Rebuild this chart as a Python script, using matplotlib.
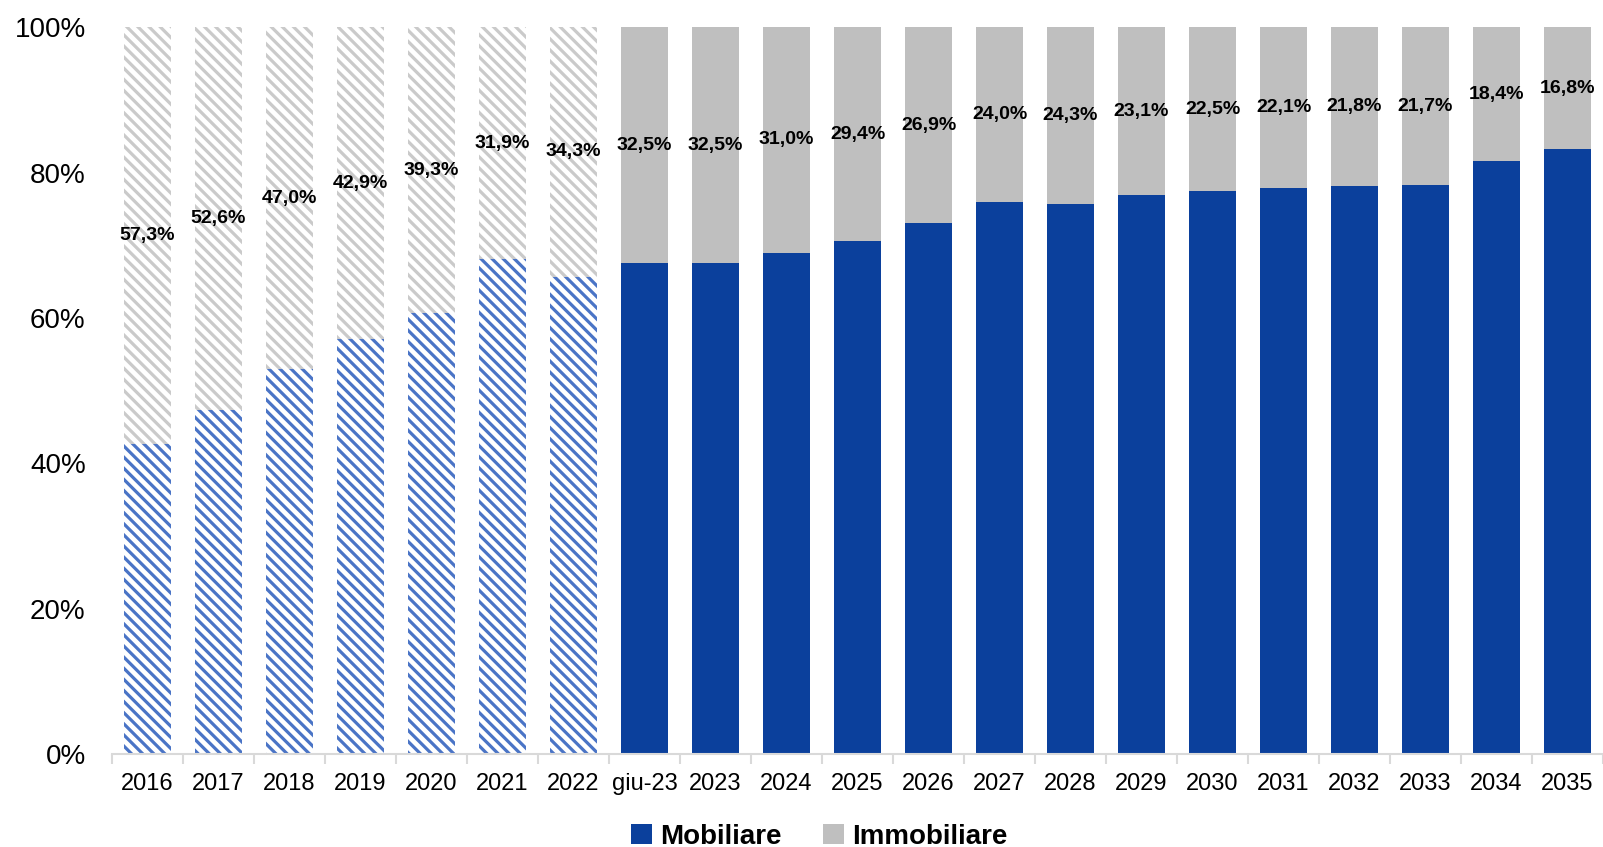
import matplotlib.pyplot as plt
from matplotlib.ticker import FixedLocator, PercentFormatter
from matplotlib.patches import Patch

categories = ["2016", "2017", "2018", "2019", "2020", "2021", "2022", "giu-23",
              "2023", "2024", "2025", "2026", "2027", "2028", "2029", "2030",
              "2031", "2032", "2033", "2034", "2035"]
immobiliare = [57.3, 52.6, 47.0, 42.9, 39.3, 31.9, 34.3, 32.5,
               32.5, 31.0, 29.4, 26.9, 24.0, 24.3, 23.1, 22.5,
               22.1, 21.8, 21.7, 18.4, 16.8]
mobiliare = [round(100 - v, 1) for v in immobiliare]
n_hist = 7  # 2016-2022 are hatched (historic)

BLUE = "#0B409C"
GRAY = "#BFBFBF"
BLUE_HATCH = "#4A74C6"
GRAY_HATCH = "#CACACA"

plt.rcParams["font.family"] = ["Liberation Sans", "DejaVu Sans"]
plt.rcParams["hatch.linewidth"] = 2.3

fig = plt.figure(figsize=(16.03, 8.47), dpi=100)
ax = fig.add_axes([0.0699, 0.1098, 0.9301, 0.858])

x = list(range(len(categories)))
width = 0.66

for i in x:
    if i < n_hist:
        ax.bar(i, mobiliare[i], width, color="white", edgecolor=BLUE_HATCH,
               hatch="\\" * 3, linewidth=0)
        ax.bar(i, immobiliare[i], width, bottom=mobiliare[i], color="white",
               edgecolor=GRAY_HATCH, hatch="\\" * 3, linewidth=0)
    else:
        ax.bar(i, mobiliare[i], width, color=BLUE, linewidth=0)
        ax.bar(i, immobiliare[i], width, bottom=mobiliare[i], color=GRAY, linewidth=0)
    label = f"{immobiliare[i]:.1f}%".replace(".", ",")
    ax.text(i, mobiliare[i] + immobiliare[i] / 2, label, ha="center", va="center",
            fontsize=14, fontweight="bold", color="black")

ax.set_xlim(-0.5, len(categories) - 0.5)
ax.set_ylim(0, 100)
ax.set_yticks([0, 20, 40, 60, 80, 100])
ax.yaxis.set_major_formatter(PercentFormatter(decimals=0))
ax.tick_params(axis="y", length=0, pad=19, labelsize=20)

ax.set_xticks(x)
ax.set_xticklabels(categories)
ax.tick_params(axis="x", which="major", length=0, pad=14, labelsize=17)
ax.xaxis.set_minor_locator(FixedLocator([i - 0.5 for i in range(len(categories) + 1)]))
ax.tick_params(axis="x", which="minor", length=7, width=1.5, color="#D9D9D9")

for side in ["top", "right", "left"]:
    ax.spines[side].set_visible(False)
ax.spines["bottom"].set_color("#D9D9D9")
ax.spines["bottom"].set_linewidth(1.5)

handles = [Patch(facecolor=BLUE, label="Mobiliare"),
           Patch(facecolor=GRAY, label="Immobiliare")]
fig.legend(handles=handles, loc="center", bbox_to_anchor=(0.511, 0.012), ncol=2,
           frameon=False, prop={"size": 20, "weight": "bold"},
           handlelength=0.75, handleheight=0.75, handletextpad=0.3, columnspacing=1.5)

fig.savefig("out.png", dpi=100)
